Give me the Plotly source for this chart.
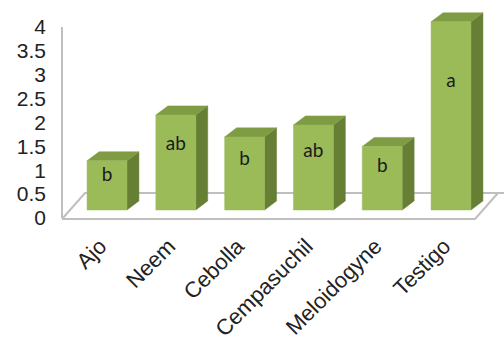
import plotly.graph_objects as go

# ---- data ----
categories = ["Ajo", "Neem", "Cebolla", "Cempasuchil", "Meloidogyne", "Testigo"]
values = [1.03, 1.99, 1.53, 1.78, 1.33, 3.94]
letters = ["b", "ab", "b", "ab", "b", "a"]
y_ticks = [0, 0.5, 1, 1.5, 2, 2.5, 3, 3.5, 4]

# ---- styling / geometry ----
FRONT = "#9BBB59"
TOP = "#7F9C44"
SIDE = "#677F35"
GRID = "#BFBFBF"
BAR_W = 0.58
DDX = 0.174   # depth offset in x units
DDY = 0.19    # depth offset in y units
TEXT_FRAC = 0.68
PX_PER_UNIT = 47.75
PLOT_TOP, PLOT_BOT = 5, 228
ZERO_TICK_PX, ZERO_BAR_PX = 218, 210

n = len(categories)
xs = list(range(n))

fig = go.Figure()

# floor (in bar coordinates, y2)
fl_front_y, fl_back_y = -0.188, 0.356
fl_x0, fl_x1 = -0.654, n - 1 + 0.349
fl_dx = 0.334
fig.add_trace(go.Scatter(
    x=[fl_x0, fl_x1, fl_x1 + fl_dx, fl_x0 + fl_dx, fl_x0],
    y=[fl_front_y, fl_front_y, fl_back_y, fl_back_y, fl_front_y],
    mode="lines", fill="toself", fillcolor="white",
    line=dict(color=GRID, width=2), xaxis="x", yaxis="y2",
    hoverinfo="skip", showlegend=False))
fig.add_trace(go.Scatter(
    x=[fl_x1 + fl_dx, 6.0], y=[fl_back_y, fl_back_y],
    mode="lines", line=dict(color=GRID, width=2), xaxis="x", yaxis="y2",
    hoverinfo="skip", showlegend=False))

# vertical axis line on tick axis (y)
fig.add_trace(go.Scatter(
    x=[fl_x0, fl_x0], y=[y_ticks[0], y_ticks[-1]], mode="lines",
    line=dict(color=GRID, width=2), xaxis="x", yaxis="y",
    hoverinfo="skip", showlegend=False))

# bars: front, side and top faces, computed from values
for xi, v in zip(xs, values):
    xl, xr = xi - BAR_W / 2, xi + BAR_W / 2
    fig.add_trace(go.Scatter(
        x=[xr, xr, xr + DDX, xr + DDX, xr],
        y=[0, v, v + DDY, DDY, 0],
        mode="lines", fill="toself", fillcolor=SIDE, line=dict(width=0.5, color=SIDE),
        xaxis="x", yaxis="y2", hoverinfo="skip", showlegend=False))
    fig.add_trace(go.Scatter(
        x=[xl, xr, xr + DDX, xl + DDX, xl],
        y=[v, v, v + DDY, v + DDY, v],
        mode="lines", fill="toself", fillcolor=TOP, line=dict(width=0.5, color=TOP),
        xaxis="x", yaxis="y2", hoverinfo="skip", showlegend=False))
    fig.add_trace(go.Scatter(
        x=[xl, xr, xr, xl, xl],
        y=[0, 0, v, v, 0],
        mode="lines", fill="toself", fillcolor=FRONT, line=dict(width=0.5, color=FRONT),
        xaxis="x", yaxis="y2", hoverinfo="skip", showlegend=False))

# letter labels
fig.add_trace(go.Scatter(
    x=xs, y=[v * TEXT_FRAC for v in values], mode="text", text=letters,
    textfont=dict(family="Lato, Arial", size=19, color="#1a1a1a"),
    xaxis="x", yaxis="y2", hoverinfo="skip", showlegend=False))

fig.update_layout(
    width=504, height=342,
    margin=dict(l=50, r=0, t=PLOT_TOP, b=342 - PLOT_BOT),
    paper_bgcolor="white", plot_bgcolor="white",
    font=dict(family="Liberation Sans, Arial", size=22, color="#222222"),
    xaxis=dict(range=[-0.8285, 5.770], showgrid=False, zeroline=False,
               showline=False, ticks="",
               tickvals=[x - 0.1 for x in xs], ticktext=categories,
               tickangle=-45, tickfont=dict(size=22)),
    yaxis=dict(range=[(ZERO_TICK_PX - PLOT_BOT) / PX_PER_UNIT,
                      (ZERO_TICK_PX - PLOT_TOP) / PX_PER_UNIT],
               showgrid=False, zeroline=False,
               showline=False, ticks="", tickvals=y_ticks,
               ticktext=[f"{t:g}" for t in y_ticks], tickfont=dict(size=21),
               ticklabelstandoff=3),
    yaxis2=dict(range=[(ZERO_BAR_PX - PLOT_BOT) / PX_PER_UNIT,
                       (ZERO_BAR_PX - PLOT_TOP) / PX_PER_UNIT],
                overlaying="y", visible=False),
    showlegend=False,
)

fig.write_html("out.html")
